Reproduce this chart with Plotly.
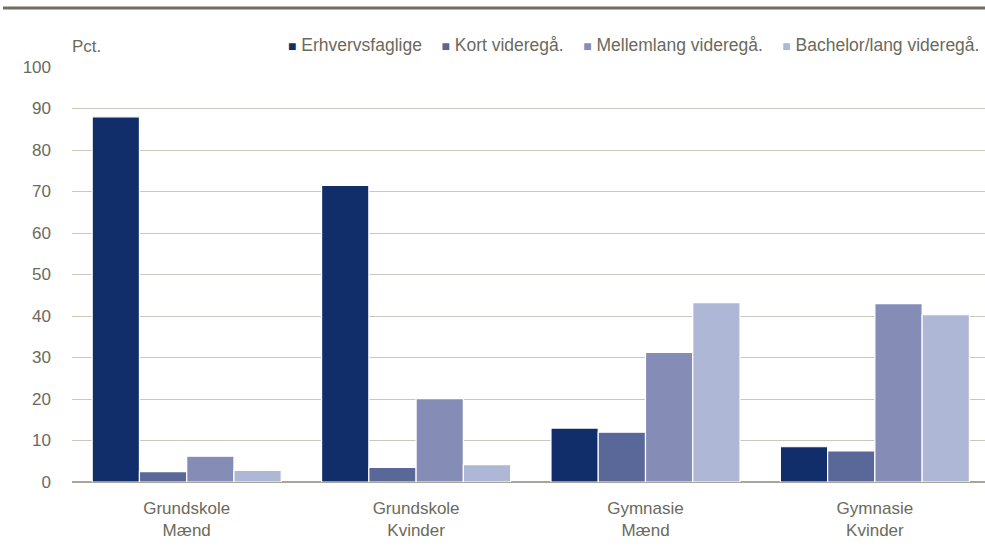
import plotly.graph_objects as go

categories = ["Grundskole<br>Mænd", "Grundskole<br>Kvinder", "Gymnasie<br>Mænd", "Gymnasie<br>Kvinder"]
series_names = ["Erhvervsfaglige", "Kort videregå.", "Mellemlang videregå.", "Bachelor/lang videregå."]
erhvervsfaglige = [88.0, 71.5, 13.0, 8.5]
kort = [2.5, 3.5, 12.0, 7.5]
mellemlang = [6.2, 20.1, 31.2, 43.0]
bachelor = [2.8, 4.2, 43.2, 40.3]
colors = ["#112d6a", "#596799", "#858db7", "#aeb8d6"]
y_ticks = [0, 10, 20, 30, 40, 50, 60, 70, 80, 90, 100]

FONT = "Liberation Sans, Arial, sans-serif"
TXT = "#6b6a5c"
FS = 17

fig = go.Figure()
for name, vals, col in zip(series_names, [erhvervsfaglige, kort, mellemlang, bachelor], colors):
    fig.add_trace(go.Bar(x=categories, y=vals, name=name,
                         marker=dict(color=col, line=dict(color="white", width=1.2))))

# custom compact legend (real text) built from the series names and colours
legend_parts = []
for name, col in zip(series_names, colors):
    legend_parts.append(f"<span style='color:{col};font-size:14px'>■</span>&nbsp;{name}")
legend_text = "&nbsp;&nbsp;&nbsp;&nbsp;".join(legend_parts)

PLOT_H = 415
fig.update_layout(
    width=985, height=547,
    margin=dict(l=72, r=0, t=67, b=65),
    paper_bgcolor="white", plot_bgcolor="white",
    barmode="group", bargap=0.176, bargroupgap=0,
    font=dict(family=FONT, size=FS, color=TXT),
    showlegend=False,
    xaxis=dict(range=[-0.5, 3.48], showgrid=False, ticks="", ticklabelstandoff=14,
               tickfont=dict(family=FONT, size=FS, color=TXT), showline=False),
    yaxis=dict(range=[0, 100], tickvals=y_ticks, showgrid=True, gridcolor="#c8c8bc", gridwidth=1,
               zeroline=True, zerolinecolor="#a5a59a", zerolinewidth=1.5, ticks="", ticklabelstandoff=20,
               tickfont=dict(family=FONT, size=FS, color=TXT), showline=False),
    shapes=[dict(type="line", xref="paper", yref="paper", x0=-69 / 913, x1=1,
                 y0=(482 - 8) / PLOT_H, y1=(482 - 8) / PLOT_H,
                 line=dict(color="#6f6e60", width=3))],
    annotations=[
        dict(text="Pct.", xref="paper", yref="paper", x=-2 / 913, y=(482 - 46) / PLOT_H,
             xanchor="left", yanchor="middle", showarrow=False,
             font=dict(family=FONT, size=FS, color=TXT)),
        dict(text=legend_text, xref="paper", yref="paper", x=(981 - 72) / 913, y=(482 - 45) / PLOT_H,
             xanchor="right", yanchor="middle", showarrow=False,
             font=dict(family=FONT, size=17.5, color=TXT)),
    ],
)

fig.write_html("out.html", config={"displayModeBar": False},
               post_script="document.body.style.margin='0';document.body.style.overflow='hidden';")
